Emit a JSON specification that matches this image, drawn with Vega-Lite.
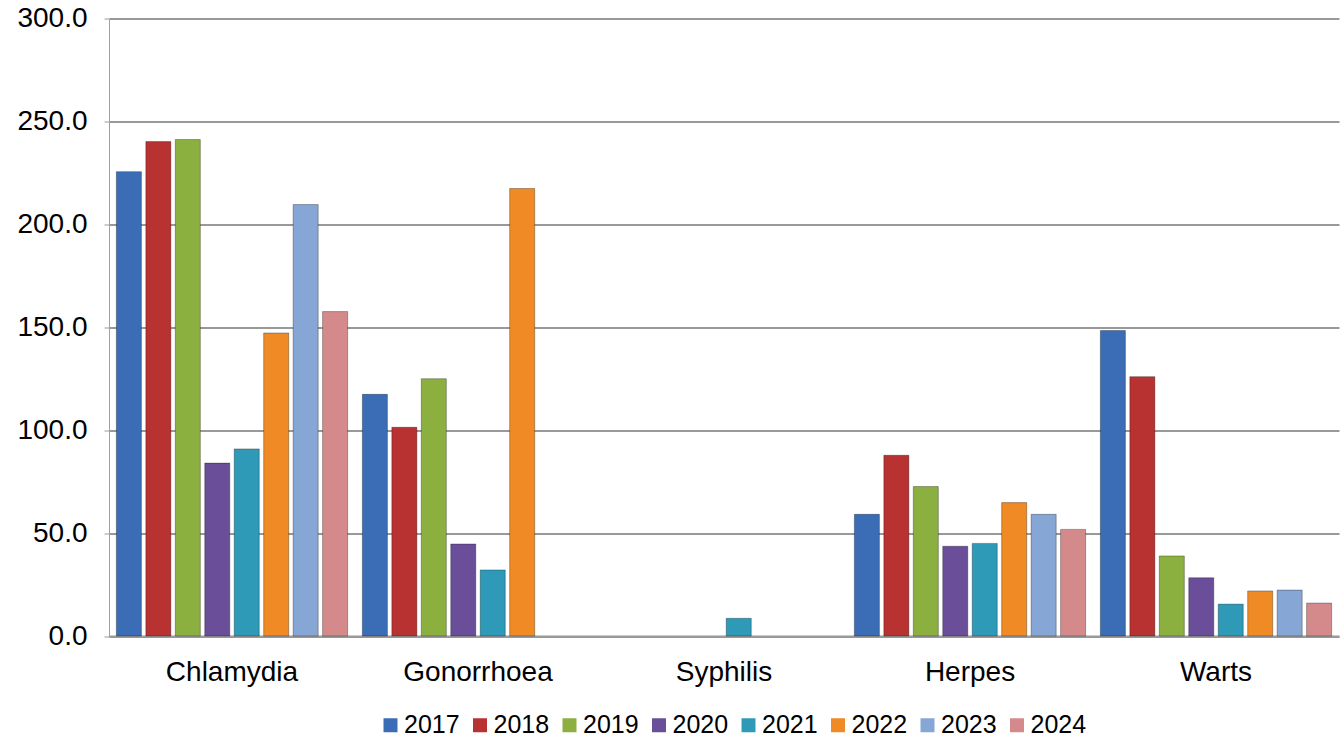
{
  "$schema": "https://vega.github.io/schema/vega-lite/v6.json",
  "width": 1230,
  "height": 617.5,
  "autosize": "none",
  "padding": {"left": 109, "top": 18.5, "right": 4, "bottom": 103},
  "background": "#ffffff",
  "config": {
    "font": "Liberation Sans",
    "view": {"stroke": null}
  },
  "data": {
    "values": [
      {"disease": "Chlamydia", "year": "2017", "value": 225.6},
      {"disease": "Chlamydia", "year": "2018", "value": 240.2},
      {"disease": "Chlamydia", "year": "2019", "value": 241.2},
      {"disease": "Chlamydia", "year": "2020", "value": 84.0},
      {"disease": "Chlamydia", "year": "2021", "value": 90.9},
      {"disease": "Chlamydia", "year": "2022", "value": 147.2},
      {"disease": "Chlamydia", "year": "2023", "value": 209.6},
      {"disease": "Chlamydia", "year": "2024", "value": 157.6},
      {"disease": "Gonorrhoea", "year": "2017", "value": 117.4},
      {"disease": "Gonorrhoea", "year": "2018", "value": 101.4},
      {"disease": "Gonorrhoea", "year": "2019", "value": 125.0},
      {"disease": "Gonorrhoea", "year": "2020", "value": 44.7},
      {"disease": "Gonorrhoea", "year": "2021", "value": 32.1},
      {"disease": "Gonorrhoea", "year": "2022", "value": 217.4},
      {"disease": "Syphilis", "year": "2021", "value": 8.6},
      {"disease": "Herpes", "year": "2017", "value": 59.1},
      {"disease": "Herpes", "year": "2018", "value": 87.8},
      {"disease": "Herpes", "year": "2019", "value": 72.6},
      {"disease": "Herpes", "year": "2020", "value": 43.6},
      {"disease": "Herpes", "year": "2021", "value": 45.0},
      {"disease": "Herpes", "year": "2022", "value": 64.8},
      {"disease": "Herpes", "year": "2023", "value": 59.1},
      {"disease": "Herpes", "year": "2024", "value": 51.8},
      {"disease": "Warts", "year": "2017", "value": 148.4},
      {"disease": "Warts", "year": "2018", "value": 126.0},
      {"disease": "Warts", "year": "2019", "value": 38.9},
      {"disease": "Warts", "year": "2020", "value": 28.3},
      {"disease": "Warts", "year": "2021", "value": 15.5},
      {"disease": "Warts", "year": "2022", "value": 21.9},
      {"disease": "Warts", "year": "2023", "value": 22.3},
      {"disease": "Warts", "year": "2024", "value": 16.0}
    ]
  },
  "mark": {"type": "bar", "stroke": "#000000", "strokeOpacity": 0.3, "strokeWidth": 1},
  "encoding": {
    "x": {
      "field": "disease",
      "type": "nominal",
      "sort": ["Chlamydia", "Gonorrhoea", "Syphilis", "Herpes", "Warts"],
      "scale": {"paddingInner": 0, "paddingOuter": 0},
      "axis": {
        "title": null,
        "labelAngle": 0,
        "labelFontSize": 28,
        "labelColor": "#000000",
        "labelPadding": 22,
        "ticks": false,
        "domainColor": "#999999",
        "domainWidth": 2
      }
    },
    "xOffset": {
      "field": "year",
      "type": "nominal",
      "scale": {
        "domain": ["2017", "2018", "2019", "2020", "2021", "2022", "2023", "2024"],
        "paddingInner": 0.15,
        "paddingOuter": 0.25
      }
    },
    "y": {
      "field": "value",
      "type": "quantitative",
      "scale": {"domain": [0, 300], "nice": false},
      "axis": {
        "title": null,
        "values": [0, 50, 100, 150, 200, 250, 300],
        "format": ".1f",
        "labelFontSize": 28,
        "labelColor": "#000000",
        "labelPadding": 17,
        "tickSize": 5,
        "tickColor": "#999999",
        "tickWidth": 1,
        "domainColor": "#a0a0a0",
        "domainWidth": 1,
        "grid": true,
        "gridColor": "#999999",
        "gridWidth": 2
      }
    },
    "color": {
      "field": "year",
      "type": "nominal",
      "scale": {
        "domain": ["2017", "2018", "2019", "2020", "2021", "2022", "2023", "2024"],
        "range": ["#3A6DB5", "#B93232", "#8CB040", "#6B4E99", "#2E9AB8", "#F08A24", "#86A6D6", "#D48A8A"]
      },
      "legend": {
        "title": null,
        "orient": "none",
        "direction": "horizontal",
        "legendX": 269,
        "legendY": 694,
        "symbolType": "square",
        "symbolSize": 196,
        "symbolStrokeWidth": 0,
        "labelFontSize": 25,
        "labelColor": "#000000",
        "labelOffset": 1,
        "columnPadding": 7.5,
        "labelLimit": 200
      }
    }
  }
}
